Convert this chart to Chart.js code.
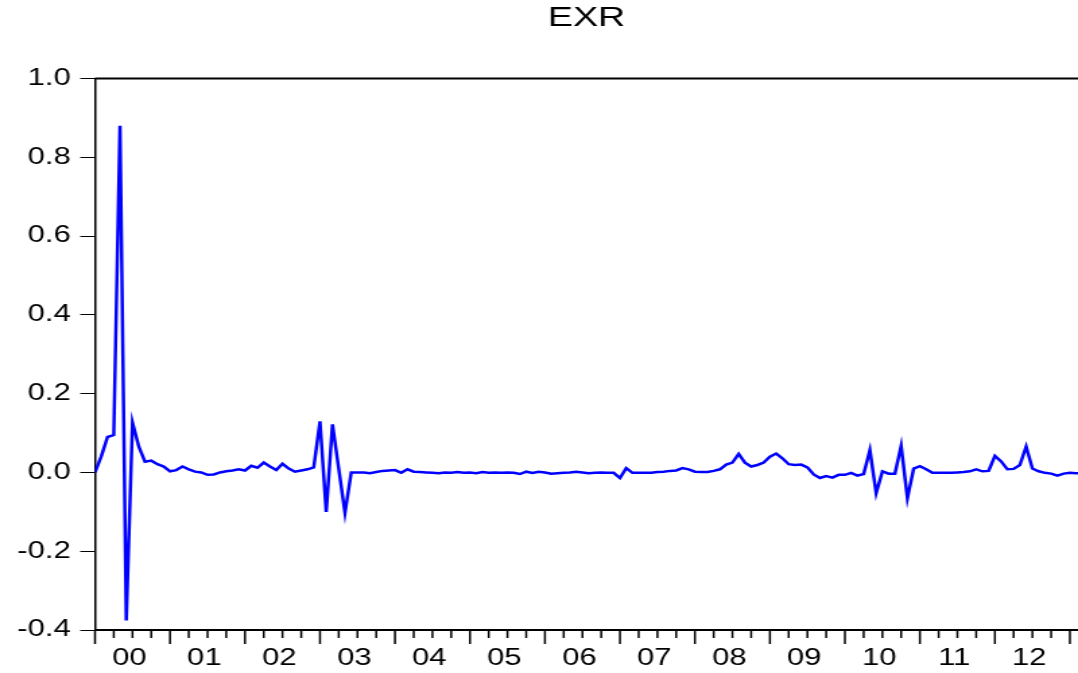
<!DOCTYPE html>
<html>
<head>
<meta charset="utf-8">
<script src="https://cdn.jsdelivr.net/npm/chart.js@4/dist/chart.umd.min.js"></script>
<style>
  body { margin: 0; background: #fff; }
</style>
</head>
<body>
<canvas id="chart" width="800" height="673" style="display:block;width:1078px;height:673px"></canvas>
<script>
// monthly series starting 2000M01
const startYear = 2000
const yearLabels = ['00', '01', '02', '03', '04', '05', '06', '07', '08', '09', '10', '11', '12']
const yTicks = [-0.4, -0.2, 0.0, 0.2, 0.4, 0.6, 0.8, 1.0]

const exr = [
    0.000, 0.041, 0.090, 0.095, 0.880, -0.376, 0.127, 0.066, 0.027, 0.030, 0.021, 0.015,
    0.003, 0.006, 0.015, 0.008, 0.002, 0.000, -0.006, -0.005, 0.000, 0.003, 0.005, 0.008,
    0.005, 0.017, 0.012, 0.025, 0.015, 0.006, 0.022, 0.010, 0.002, 0.005, 0.008, 0.013,
    0.130, -0.100, 0.122, 0.010, -0.103, 0.000, 0.000, 0.000, -0.002, 0.001, 0.004, 0.005,
    0.006, -0.001, 0.008, 0.002, 0.001, 0.000, -0.001, -0.002, 0.000, -0.001, 0.001, -0.001,
    0.000, -0.002, 0.001, -0.001, 0.000, -0.001, 0.000, -0.001, -0.004, 0.002, -0.001, 0.002,
    0.000, -0.003, -0.002, -0.001, 0.000, 0.002, 0.000, -0.002, -0.001, 0.000, -0.001, -0.001,
    -0.014, 0.011, -0.001, -0.001, -0.001, -0.001, 0.001, 0.002, 0.004, 0.005, 0.011, 0.008,
    0.002, 0.001, 0.001, 0.004, 0.008, 0.020, 0.025, 0.047, 0.025, 0.015, 0.019, 0.025,
    0.040, 0.048, 0.036, 0.021, 0.019, 0.020, 0.013, -0.005, -0.014, -0.009, -0.013, -0.006,
    -0.006, -0.001, -0.008, -0.004, 0.057, -0.053, 0.003, -0.003, -0.003, 0.068, -0.066, 0.010,
    0.016, 0.008, -0.001, -0.001, -0.001, -0.001, 0.000, 0.001, 0.003, 0.008, 0.003, 0.004,
    0.042, 0.028, 0.008, 0.009, 0.019, 0.066, 0.010, 0.003, -0.001, -0.003, -0.008, -0.003,
    -0.001, -0.002, -0.002
]

const months = exr.map((v, i) => {
    const y = startYear + Math.floor(i / 12)
    return y + 'M' + String(i % 12 + 1).padStart(2, '0')
})

const fontFamily = '"Liberation Sans", Arial, sans-serif'

// EViews style frame top line and quarterly / yearly ticks below the axis
const frameTicks = {
    id: 'frameTicks',
    afterDraw(chart) {
        const { ctx, chartArea, scales } = chart
        const x = scales.x
        ctx.save()
        ctx.strokeStyle = '#000'
        ctx.lineWidth = 2
        ctx.beginPath()
        ctx.moveTo(chartArea.left, chartArea.top)
        ctx.lineTo(chart.width + 5, chartArea.top)
        ctx.stroke()
        ctx.lineWidth = 1.5
        for (let i = 0; i < months.length; i += 3) {
            const px = x.getPixelForValue(i)
            if (px > chart.width) break
            const len = i % 12 === 0 ? 14 : 8
            ctx.beginPath()
            ctx.moveTo(px, chartArea.bottom)
            ctx.lineTo(px, chartArea.bottom + len)
            ctx.stroke()
        }
        ctx.restore()
    }
}

const config = {
    type: 'line',
    data: {
        labels: months,
        datasets: [
            {
                label: 'EXR',
                data: exr.map((v, i) => ({ x: i, y: v })),
                borderColor: '#0000ff',
                borderWidth: 2.5,
                pointRadius: 0,
                tension: 0,
            },
        ]
    },
    options: {
        responsive: false,
        animation: false,
        layout: { padding: 0 },
        plugins: {
            legend: { display: false },
            tooltip: { enabled: false },
            title: {
                display: true,
                text: 'EXR',
                color: '#000',
                fullSize: false,
                font: { family: fontFamily, size: 28, weight: 'normal' },
                padding: { top: 1, bottom: 44 }
            }
        },
        scales: {
            x: {
                type: 'linear',
                min: 0,
                max: 157.3,
                afterFit: (scale) => { scale.height = 43 },
                afterBuildTicks: (scale) => {
                    scale.ticks = yearLabels.map((l, k) => ({ value: k * 12 + 5.5 }))
                },
                grid: { display: false, drawTicks: false },
                border: { display: true, color: '#000', width: 2 },
                ticks: {
                    color: '#000',
                    padding: 15,
                    maxRotation: 0,
                    autoSkip: false,
                    font: { family: fontFamily, size: 23 },
                    callback: (v, idx) => yearLabels[idx]
                }
            },
            y: {
                min: -0.4,
                max: 1.0,
                afterFit: (scale) => { scale.width = 70.5 },
                afterBuildTicks: (scale) => {
                    scale.ticks = yTicks.map((v) => ({ value: v }))
                },
                grid: {
                    drawOnChartArea: false,
                    tickLength: 11,
                    tickColor: '#000',
                    lineWidth: 1
                },
                border: { display: true, color: '#000', width: 1.5 },
                ticks: {
                    color: '#000',
                    padding: 7,
                    font: { family: fontFamily, size: 23 },
                    callback: (v) => (Math.abs(v) < 1e-9 ? 0 : v).toFixed(1)
                }
            }
        }
    },
    plugins: [frameTicks]
};

new Chart(document.getElementById('chart'), config);
</script>
</body>
</html>
